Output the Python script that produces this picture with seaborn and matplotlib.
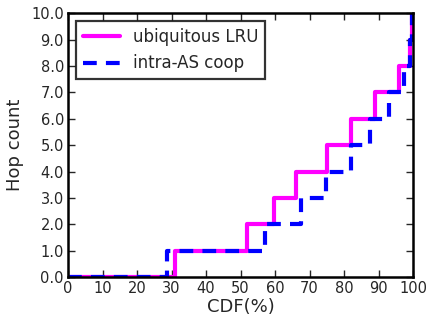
import numpy as np
import pandas as pd
import matplotlib
matplotlib.use("Agg")
import matplotlib.pyplot as plt
import seaborn as sns

# step points: CDF (%) where the hop count moves up one level
lru_cdf = [0, 31.0, 52.0, 59.8, 66.2, 75.0, 82.0, 89.1, 95.8, 99.0, 99.6, 100]
lru_hops = [0, 1, 2, 3, 4, 5, 6, 7, 8, 9, 10, 10]
coop_cdf = [0, 28.6, 57.1, 67.4, 74.8, 82.0, 87.6, 92.9, 97.4, 99.1, 99.8, 100]
coop_hops = [0, 1, 2, 3, 4, 5, 6, 7, 8, 9, 10, 10]

x_ticks = list(range(0, 101, 10))
y_ticks = list(range(0, 11))

sns.set_style("ticks")
plt.rcParams["font.family"] = ["DejaVu Sans"]
plt.rcParams["xtick.direction"] = "in"
plt.rcParams["ytick.direction"] = "in"

fig = plt.figure(figsize=(4.28, 3.2), dpi=100)
ax = fig.add_axes([0.159, 0.134, 0.806, 0.825])

lru = pd.DataFrame({"cdf": lru_cdf, "hops": lru_hops})
coop = pd.DataFrame({"cdf": coop_cdf, "hops": coop_hops})

sns.lineplot(data=lru, x="cdf", y="hops", ax=ax, color="magenta", lw=3,
             drawstyle="steps-post", label="ubiquitous LRU", sort=False)
sns.lineplot(data=coop, x="cdf", y="hops", ax=ax, color="blue", lw=3,
             dashes=False, drawstyle="steps-post", label="intra-AS coop", sort=False)
ax.lines[1].set_dashes((3.3, 2.2))

ax.set_xlim(0, 100)
ax.set_ylim(0, 10)
ax.set_xticks(x_ticks)
ax.set_yticks(y_ticks)
ax.set_yticklabels([f"{v:.1f}" for v in y_ticks])
ax.tick_params(axis="both", labelsize=10.5, length=5, width=1, top=True, right=True, pad=3)
for s in ax.spines.values():
    s.set_visible(True)
    s.set_linewidth(1.8)
    s.set_color("black")

ax.set_xlabel("CDF(%)", fontsize=13, labelpad=1)
ax.set_ylabel("Hop count", fontsize=13, labelpad=5)

leg = ax.legend(loc="upper left", fontsize=12, frameon=True, fancybox=False,
                borderaxespad=0.5, handlelength=2.2)
leg.get_frame().set_edgecolor("black")
leg.get_frame().set_linewidth(1.6)
leg.get_lines()[1].set_dashes((3.3, 2.2))

fig.savefig("out.png", dpi=100)
